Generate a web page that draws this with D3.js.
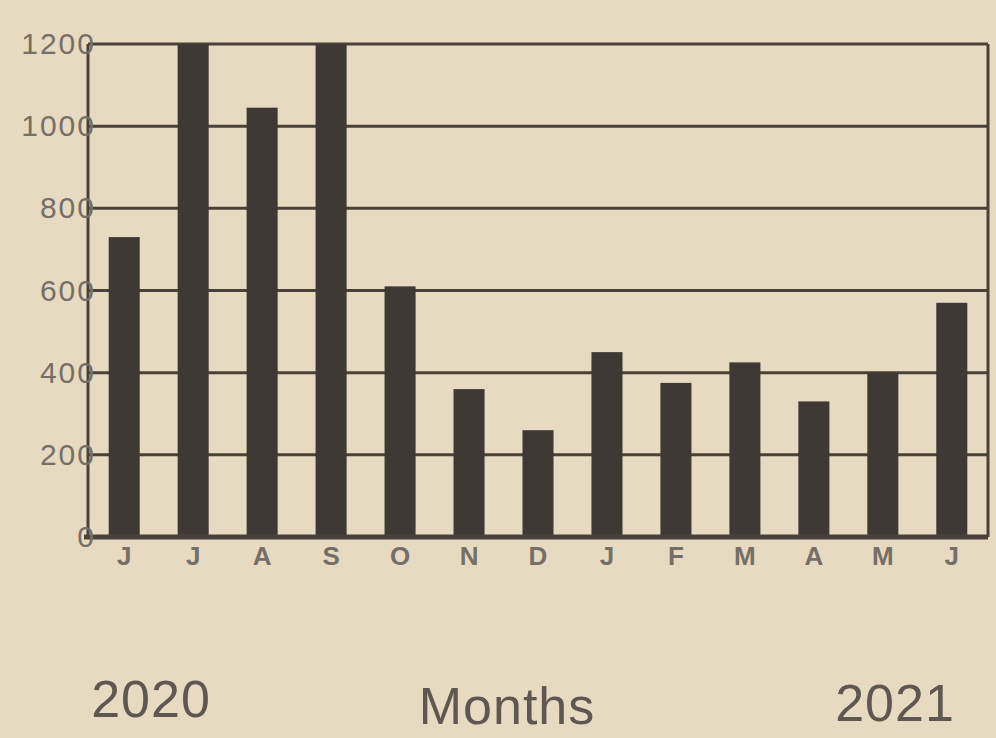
<!DOCTYPE html>
<html>
<head>
<meta charset="utf-8">
<script src="https://cdn.jsdelivr.net/npm/d3@7"></script>
<style>
  body { margin: 0; background: #e6dbc0; }
  svg { display: block; }
</style>
</head>
<body>
<svg id="chart" width="996" height="738"></svg>
<script>
const months = ["J", "J", "A", "S", "O", "N", "D", "J", "F", "M", "A", "M", "J"];
const values = [730, 1200, 1045, 1200, 610, 360, 260, 450, 375, 425, 330, 400, 570];
const yTicks = [0, 200, 400, 600, 800, 1000, 1200];
const yearLabels = ["2020", "2021"];
const axisTitle = "Months";

const width = 996;
const height = 738;
const margin = { top: 44, right: 8, bottom: 201, left: 88 };

const svg = d3.select("#chart");
const ink = "#4a4239";
const textGray = "#756f66";
const font = "Liberation Sans, Arial, sans-serif";

// background, paper tint
svg.append("rect")
  .attr("width", width)
  .attr("height", height)
  .attr("fill", "#e6dbc0");

const x = d3.scaleBand()
  .domain(d3.range(months.length))
  .range([margin.left, width - margin.right])
  .paddingInner(0.55)
  .paddingOuter(0.3);

const y = d3.scaleLinear()
  .domain([0, 1200])
  .range([height - margin.bottom, margin.top]);

// gridlines
svg.append("g")
  .selectAll("line")
  .data(yTicks)
  .join("line")
  .attr("x1", margin.left)
  .attr("x2", width - margin.right)
  .attr("y1", d => y(d))
  .attr("y2", d => y(d))
  .attr("stroke", ink)
  .attr("stroke-width", 3);

// bars
svg.append("g")
  .selectAll("rect")
  .data(values)
  .join("rect")
  .attr("x", (d, i) => x(i))
  .attr("y", d => y(d))
  .attr("width", x.bandwidth())
  .attr("height", d => y(0) - y(d))
  .attr("fill", "#3e3935");

// frame: left, right and thicker base
svg.append("line")
  .attr("x1", margin.left).attr("x2", margin.left)
  .attr("y1", y(1200)).attr("y2", y(0))
  .attr("stroke", ink).attr("stroke-width", 3);
svg.append("line")
  .attr("x1", width - margin.right).attr("x2", width - margin.right)
  .attr("y1", y(1200)).attr("y2", y(0))
  .attr("stroke", ink).attr("stroke-width", 3);
svg.append("line")
  .attr("x1", margin.left - 4).attr("x2", width - margin.right)
  .attr("y1", y(0)).attr("y2", y(0))
  .attr("stroke", ink).attr("stroke-width", 5);

// y axis labels, overlapping the axis line a little like the print
const yAxis = d3.axisLeft(y)
  .tickValues(yTicks)
  .tickFormat(d3.format("d"))
  .tickSize(0)
  .tickPadding(-8);

svg.append("g")
  .attr("transform", `translate(${margin.left},0)`)
  .call(yAxis)
  .call(g => g.select(".domain").remove())
  .call(g => g.selectAll("text")
    .attr("fill", textGray)
    .attr("font-family", font)
    .attr("font-size", "30px")
    .attr("letter-spacing", "2px"));

// month labels
const xAxis = d3.axisBottom(x)
  .tickFormat(i => months[i])
  .tickSize(0)
  .tickPadding(10);

svg.append("g")
  .attr("transform", `translate(0,${y(0)})`)
  .call(xAxis)
  .call(g => g.select(".domain").remove())
  .call(g => g.selectAll("text")
    .attr("fill", textGray)
    .attr("font-family", font)
    .attr("font-weight", "bold")
    .attr("font-size", "26px"));

// year labels and title
const bottomText = [
  { t: yearLabels[0], x: 151, y: 717 },
  { t: axisTitle, x: 507, y: 724 },
  { t: yearLabels[1], x: 895, y: 721 }
];

svg.append("g")
  .selectAll("text")
  .data(bottomText)
  .join("text")
  .attr("x", d => d.x)
  .attr("y", d => d.y)
  .attr("text-anchor", "middle")
  .attr("fill", "#5e5850")
  .attr("font-family", font)
  .attr("font-size", "52px")
  .attr("letter-spacing", "1px")
  .text(d => d.t);
</script>
</body>
</html>
